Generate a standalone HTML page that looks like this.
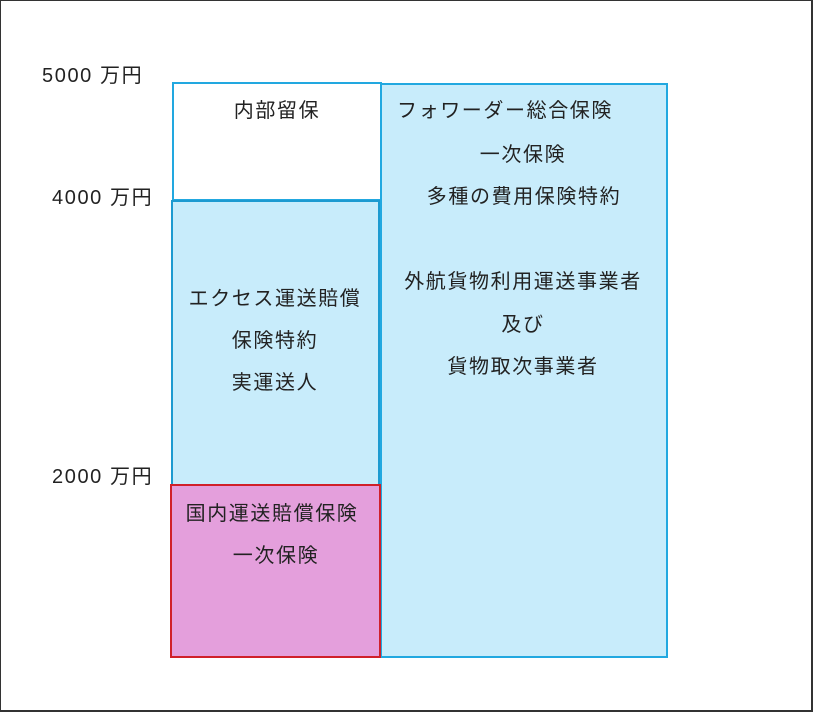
<!DOCTYPE html>
<html><head><meta charset="utf-8"><style>
body{margin:0;width:813px;height:713px;background:#fff;position:relative;overflow:hidden;font-family:"Liberation Sans","Noto Sans CJK JP",sans-serif;color:#222;}
.b{position:absolute;box-sizing:border-box;}
.t{position:absolute;font-size:20px;letter-spacing:1.6px;white-space:nowrap;line-height:22px;}
.c{position:absolute;font-size:20px;letter-spacing:1.6px;white-space:nowrap;line-height:22px;transform:translateX(-50%);}
</style></head><body>
<div class="b" style="left:0;top:0;width:813px;height:712px;border:1px solid #333;border-right:2px solid #333;border-bottom:2px solid #333;"></div>
<div class="b" style="left:380px;top:83px;width:288px;height:575px;background:#c8ecfb;border:2px solid #22a8e0;"></div>
<div class="b" style="left:172px;top:82px;width:210px;height:119px;background:#fff;border:2px solid #22a8e0;"></div>
<div class="b" style="left:171px;top:200px;width:209px;height:286px;background:#c8ecfb;border:2px solid #1d9ad0;"></div>
<div class="b" style="left:170px;top:484px;width:211px;height:174px;background:#e49fdc;border:2px solid #d0202a;"></div>
<div class="t" style="left:42px;top:65px;">5000 万円</div>
<div class="t" style="left:52px;top:187px;">4000 万円</div>
<div class="t" style="left:52px;top:466px;">2000 万円</div>
<div class="c" style="left:277px;top:100px;">内部留保</div>
<div class="t" style="left:397px;top:100px;">フォワーダー総合保険</div>
<div class="c" style="left:523px;top:144px;">一次保険</div>
<div class="c" style="left:524px;top:186px;">多種の費用保険特約</div>
<div class="c" style="left:523px;top:271px;">外航貨物利用運送事業者</div>
<div class="c" style="left:523px;top:314px;">及び</div>
<div class="c" style="left:523px;top:356px;">貨物取次事業者</div>
<div class="c" style="left:275px;top:288px;">エクセス運送賠償</div>
<div class="c" style="left:275px;top:330px;">保険特約</div>
<div class="c" style="left:275px;top:372px;">実運送人</div>
<div class="c" style="left:272px;top:503px;">国内運送賠償保険</div>
<div class="c" style="left:276px;top:545px;">一次保険</div>
</body></html>
